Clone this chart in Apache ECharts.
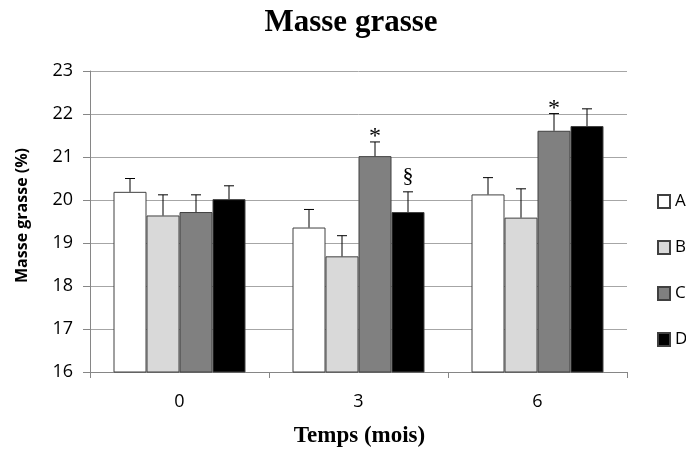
<!DOCTYPE html>
<html><head><meta charset="utf-8">
<script src="https://cdn.jsdelivr.net/npm/echarts@6/dist/echarts.min.js"></script>
<style>html,body{margin:0;padding:0;background:#fff}#c{width:686px;height:454px}</style>
</head><body><div id="c"></div>
<script>
const categories = ['0', '3', '6'];
const seriesNames = ['A', 'B', 'C', 'D'];
const valuesA = [20.19, 19.36, 20.13];
const valuesB = [19.64, 18.69, 19.59];
const valuesC = [19.72, 21.02, 21.61];
const valuesD = [20.02, 19.72, 21.72];
const errA = [0.31, 0.42, 0.39];
const errB = [0.48, 0.48, 0.67];
const errC = [0.40, 0.33, 0.40];
const errD = [0.31, 0.47, 0.40];
const annotA = ['', '', ''];
const annotB = ['', '', ''];
const annotC = ['', '*', '*'];
const annotD = ['', '§', ''];
const yTicks = [16, 17, 18, 19, 20, 21, 22, 23];

const values = [valuesA, valuesB, valuesC, valuesD];
const errs = [errA, errB, errC, errD];
const annots = [annotA, annotB, annotC, annotD];
const colors = ['#ffffff', '#d9d9d9', '#808080', '#000000'];
const BAR_W = 33;

const series = [];
seriesNames.forEach((n, i) => {
  series.push({
    name: n, type: 'bar', data: values[i], barWidth: BAR_W, barGap: '0%',
    itemStyle: { color: colors[i], borderColor: '#404040', borderWidth: 1 },
    z: 2
  });
});
seriesNames.forEach((n, i) => {
  const data = categories.map((c, k) => [k, values[i][k], values[i][k] + errs[i][k], annots[i][k]]);
  series.push({
    name: n + '_err', type: 'custom', z: 5,
    data: data,
    encode: { x: 0, y: [1, 2] },
    renderItem: function (params, api) {
      const k = api.value(0);
      const base = api.coord([k, api.value(1)]);
      const top = api.coord([k, api.value(2)]);
      const off = (i - 1.5) * BAR_W;
      const x = base[0] + off;
      const children = [
        { type: 'line', shape: { x1: x, y1: base[1], x2: x, y2: top[1] }, style: { stroke: '#000', lineWidth: 1 } },
        { type: 'line', shape: { x1: x - 5, y1: top[1], x2: x + 5, y2: top[1] }, style: { stroke: '#000', lineWidth: 1 } }
      ];
      const t = data[params.dataIndex][3];
      if (t) {
        const isStar = t === '*';
        children.push({ type: 'text', style: {
          text: t, x: x, y: isStar ? top[1] + 7 : top[1] - 5,
          align: 'center', verticalAlign: 'bottom',
          font: (isStar ? '24px' : '22px') + ' "Liberation Serif", serif', fill: '#000'
        }});
      }
      return { type: 'group', children: children };
    }
  });
});

const sans = '"Open Sans", sans-serif';
const chart = echarts.init(document.getElementById('c'), null, { renderer: 'canvas' });
chart.setOption({
  animation: false,
  backgroundColor: '#fff',
  title: {
    text: 'Masse grasse', left: 346, top: 2, textAlign: 'center',
    textStyle: { fontFamily: '"Liberation Serif", serif', fontWeight: 'bold', fontSize: 31, color: '#000' }
  },
  legend: {
    data: seriesNames, orient: 'vertical', left: 657, top: 193, padding: 0,
    itemWidth: 12, itemHeight: 13, itemGap: 29,
    textStyle: { fontFamily: sans, fontSize: 17, color: '#000', lineHeight: 13 },
    icon: 'rect'
  },
  grid: { left: 90, right: 59, top: 71, bottom: 82, containLabel: false },
  xAxis: {
    type: 'category', data: categories,
    name: 'Temps (mois)', nameLocation: 'middle', nameGap: 53,
    nameTextStyle: { fontFamily: '"Liberation Serif", serif', fontWeight: 'bold', fontSize: 23, color: '#000', padding: [0, 0, 0, 2] },
    axisLine: { lineStyle: { color: '#868686' } },
    axisTick: { show: true, interval: 0, length: 6, lineStyle: { color: '#868686' } },
    axisLabel: { fontFamily: sans, fontSize: 18, color: '#000', margin: 21 }
  },
  yAxis: {
    type: 'value', min: 16, max: 23, interval: 1,
    name: 'Masse grasse (%)', nameLocation: 'middle', nameGap: 60, nameRotate: 90,
    nameTextStyle: { fontFamily: sans, fontWeight: 'bold', fontSize: 16, color: '#000', padding: [0, 0, 0, 12] },
    axisLine: { show: true, lineStyle: { color: '#868686' } },
    axisTick: { show: true, length: 7, lineStyle: { color: '#868686' } },
    axisLabel: { fontFamily: sans, fontSize: 18, color: '#000', margin: 17,
      formatter: v => yTicks.includes(v) ? String(v) : '' },
    splitLine: { lineStyle: { color: '#a6a6a6' } }
  },
  series: series
});
</script></body></html>
